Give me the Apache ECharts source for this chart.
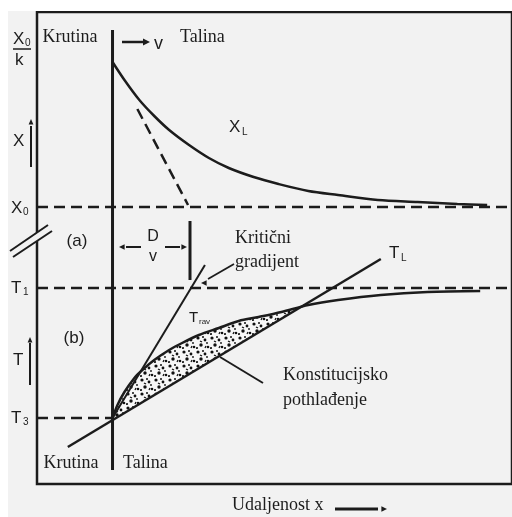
<!DOCTYPE html>
<html>
<head>
<meta charset="utf-8">
<script src="https://cdn.jsdelivr.net/npm/echarts@6/dist/echarts.min.js"></script>
<style>
  html, body { margin: 0; padding: 0; background: #f2f2f2; }
  #main { width: 512px; height: 517px; }
</style>
</head>
<body>
<div id="main"></div>
<script>
// koordinate dijagrama (x = udaljenost, y = X odnosno T), ocitano sa slike
var granica = [[76, 14], [76, 454]];            // granica krutina / talina
var xlKrivulja = [[76, 422], [88, 404], [103, 384], [118, 368], [133, 354], [153, 339], [173, 326],
                  [193, 316], [218, 307], [243, 300], [273, 293], [303, 289], [343, 284], [383, 282],
                  [423, 280], [453, 279]];
var tangenta = [[101, 375], [152, 279]];
var x0Linija = [[0, 277], [478, 277]];
var t1Linija = [[0, 196], [478, 196]];
var t3Linija = [[0, 66], [76, 66]];
var tlLinija = [[31, 37], [346, 225]];
var kriticni = [[76, 66], [169, 219]];
var tStvarna = [[76, 66], [81, 79], [88, 92], [98, 106], [106, 114], [118, 124], [133, 134], [146, 141],
                [163, 149], [183, 156], [203, 163], [223, 167], [246, 172], [273, 179], [303, 184],
                [346, 189], [393, 192], [446, 193]];
var presjekX = 271;

var crna = '#1c1c1c';
var pozadina = '#f2f2f2';
var serif = '"Liberation Serif", "DejaVu Serif", serif';
var sans = '"Liberation Sans", Arial, sans-serif';

function tlNa(x) {
    var a = tlLinija[0], b = tlLinija[1];
    return a[1] + (x - a[0]) * (b[1] - a[1]) / (b[0] - a[0]);
}

// tockasti uzorak za podrucje pothladenja
var uzorak = document.createElement('canvas');
uzorak.width = 14; uzorak.height = 14;
(function () {
    var c = uzorak.getContext('2d');
    c.fillStyle = '#f7f7f7';
    c.fillRect(0, 0, 14, 14);
    c.fillStyle = '#111';
    [[2, 2, 1.6], [9, 4, 1.4], [5, 9, 1.7], [12, 11, 1.3], [1, 12, 1.1], [7, 1, 1.0], [11, 7, 0.9]].forEach(function (d) {
        c.beginPath(); c.arc(d[0], d[1], d[2], 0, Math.PI * 2); c.fill();
    });
    c.strokeStyle = '#111';
    c.lineWidth = 1.3;
    c.beginPath(); c.moveTo(4, 5); c.lineTo(6, 6); c.stroke();
    c.beginPath(); c.moveTo(9, 12); c.lineTo(10, 10); c.stroke();
})();

function linija(podaci, sirina, isprekidana) {
    return {
        type: 'line', data: podaci, showSymbol: false, silent: true, z: 3,
        lineStyle: { color: crna, width: sirina, type: isprekidana ? [11, 6] : 'solid' }
    };
}
function krivulja(podaci, sirina) {
    var s = linija(podaci, sirina, false);
    s.smooth = 0.3;
    return s;
}

function tekst(t, x, y, font, poravnanje) {
    return {
        type: 'text', x: x, y: y, z: 10,
        style: { text: t, font: font, fill: crna, align: poravnanje || 'left', textAlign: poravnanje || 'left',
                 verticalAlign: 'middle', textVerticalAlign: 'middle' }
    };
}
function crta(x1, y1, x2, y2, w) {
    return { type: 'line', z: 10, shape: { x1: x1, y1: y1, x2: x2, y2: y2 }, style: { stroke: crna, lineWidth: w || 2 } };
}
function vrh(x, y, smjer, vel) {
    var s = vel || 6;
    var p;
    if (smjer === 'desno') p = [[x, y], [x - s * 1.4, y - s * 0.7], [x - s * 1.4, y + s * 0.7]];
    else if (smjer === 'lijevo') p = [[x, y], [x + s * 1.4, y - s * 0.7], [x + s * 1.4, y + s * 0.7]];
    else p = [[x, y], [x - s * 0.6, y + s * 1.4], [x + s * 0.6, y + s * 1.4]];
    return { type: 'polygon', z: 10, shape: { points: p }, style: { fill: crna } };
}

var myChart = echarts.init(document.getElementById('main'));

var graficki = [
    { type: 'rect', z: 0, shape: { x: 0, y: 0, width: 512, height: 11 }, style: { fill: '#ffffff' } },
    { type: 'rect', z: 0, shape: { x: 0, y: 0, width: 8, height: 517 }, style: { fill: '#ffffff' } },
    // X0/k
    tekst('X', 13, 39, '17px ' + sans),
    tekst('0', 25, 43, '10px ' + sans),
    crta(13, 49, 31, 49, 1.5),
    tekst('k', 15, 60, '17px ' + sans),
    tekst('Krutina', 70, 37, '18px ' + serif, 'center'),
    crta(122, 42, 143, 42, 2.5), vrh(150, 42, 'desno', 5),
    tekst('v', 154, 44, '18px ' + sans),
    tekst('Talina', 180, 37, '18px ' + serif),
    // X os
    tekst('X', 13, 141, '17px ' + sans),
    crta(31, 167, 31, 126, 2), vrh(31, 119, 'gore', 4),
    tekst('X', 229, 127, '17px ' + sans),
    tekst('L', 242, 132, '10px ' + sans),
    tekst('X', 11, 208, '17px ' + sans),
    tekst('0', 23, 212, '10px ' + sans),
    // prekid osi
    { type: 'polygon', z: 9, shape: { points: [[10, 251], [48, 225], [52, 231], [13, 257]] }, style: { fill: pozadina } },
    crta(10, 251, 48, 225, 2), crta(13, 257, 52, 231, 2),
    tekst('(a)', 77, 241, '17px ' + sans, 'center'),
    // D/v
    tekst('D', 153, 237, '16px ' + sans, 'center'),
    tekst('v', 153, 257, '16px ' + sans, 'center'),
    crta(126, 247, 141, 247, 2), vrh(119, 247, 'lijevo', 4),
    crta(165, 247, 180, 247, 2), vrh(187, 247, 'desno', 4),
    crta(190, 221, 190, 280, 3),
    tekst('Kritični', 235, 238, '18px ' + serif),
    tekst('gradijent', 235, 262, '18px ' + serif),
    crta(234, 264, 208, 279, 1.8), vrh(201, 283, 'lijevo', 4),
    // T os
    tekst('T', 11, 288, '17px ' + sans),
    tekst('1', 23, 292, '10px ' + sans),
    tekst('(b)', 74, 338, '17px ' + sans, 'center'),
    tekst('T', 13, 360, '17px ' + sans),
    crta(30, 385, 30, 343, 2), vrh(30, 337, 'gore', 4),
    tekst('T', 189, 318, '15px ' + sans),
    tekst('rav', 199, 322, '8px ' + sans),
    tekst('T', 389, 253, '17px ' + sans),
    tekst('L', 401, 258, '10px ' + sans),
    tekst('Konstitucijsko', 283, 375, '18px ' + serif),
    tekst('pothlađenje', 283, 400, '18px ' + serif),
    crta(220, 357, 263, 383, 2),
    tekst('T', 11, 418, '17px ' + sans),
    tekst('3', 23, 422, '10px ' + sans),
    tekst('Krutina', 71, 463, '18px ' + serif, 'center'),
    tekst('Talina', 123, 463, '18px ' + serif),
    tekst('Udaljenost x', 232, 505, '18px ' + serif),
    crta(335, 509, 378, 509, 3), vrh(387, 509, 'desno', 4)
];

var option = {
    backgroundColor: pozadina,
    animation: false,
    grid: { left: 37, top: 12, right: -3, bottom: 33, show: true, borderColor: crna, borderWidth: 2.5 },
    xAxis: { type: 'value', min: 0, max: 478, show: false },
    yAxis: { type: 'value', min: 0, max: 472, show: false },
    graphic: graficki,
    series: [
        {
            type: 'custom', z: 2, silent: true, data: [[76, 66]],
            renderItem: function (params, api) {
                var pts = tStvarna.filter(function (p) { return p[0] <= presjekX; }).map(function (p) { return api.coord(p); });
                pts.push(api.coord([presjekX, tlNa(presjekX)]));
                pts.push(api.coord([76, tlNa(76)]));
                return { type: 'polygon', shape: { points: pts }, style: { fill: { image: uzorak, repeat: 'repeat' } } };
            }
        },
        linija(granica, 3, false),
        krivulja(xlKrivulja, 2.5),
        linija(tangenta, 2.5, true),
        linija(x0Linija, 2.5, true),
        linija(t1Linija, 2.5, true),
        linija(t3Linija, 2.5, true),
        linija(tlLinija, 2.5, false),
        linija(kriticni, 2, false),
        krivulja(tStvarna, 2.5)
    ]
};
myChart.setOption(option);
</script>
</body>
</html>
